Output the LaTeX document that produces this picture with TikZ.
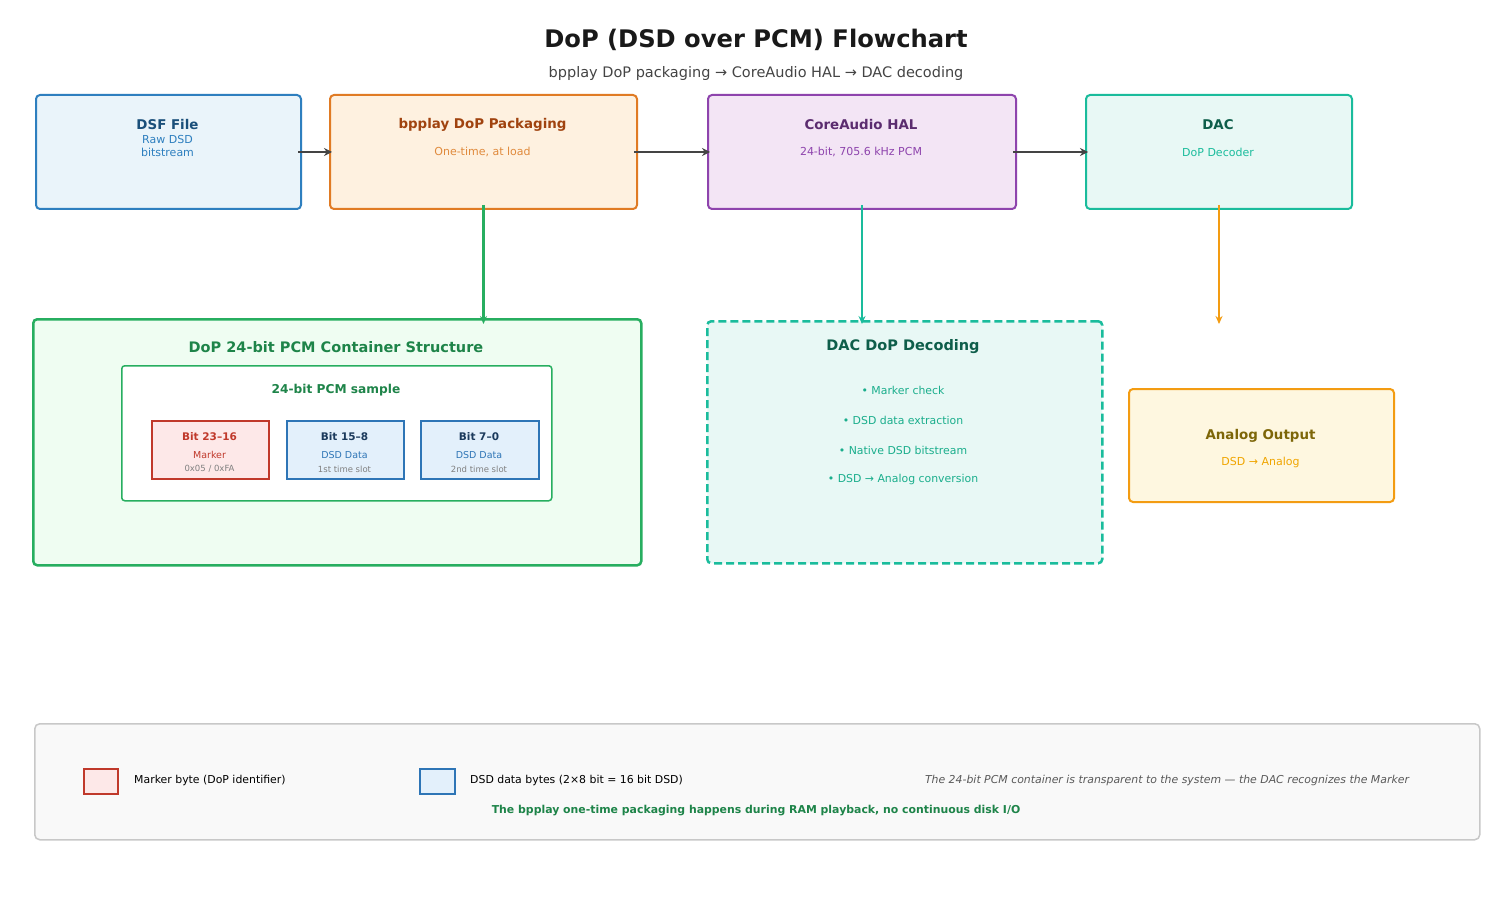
\documentclass[tikz,border=0pt]{standalone}
\usepackage{fontspec}
\setmainfont{DejaVu Sans}
\usetikzlibrary{arrows.meta}
\definecolor{bluebd}{HTML}{2E7FBF}
\definecolor{bluefill}{HTML}{EAF4FA}
\definecolor{bluedark}{HTML}{1A4F7A}
\definecolor{orbd}{HTML}{E07B24}
\definecolor{orfill}{HTML}{FEF1E0}
\definecolor{ordark}{HTML}{A0430F}
\definecolor{orlight}{HTML}{E08A3C}
\definecolor{pubd}{HTML}{8E44AD}
\definecolor{pufill}{HTML}{F3E5F5}
\definecolor{pudark}{HTML}{5B2C6F}
\definecolor{tebd}{HTML}{1ABC9C}
\definecolor{tefill}{HTML}{E8F8F5}
\definecolor{tedark}{HTML}{0E5E4A}
\definecolor{tetext}{HTML}{1AAE8C}
\definecolor{grbd}{HTML}{27AE60}
\definecolor{grfill}{HTML}{EFFDF2}
\definecolor{grdark}{HTML}{1E8449}
\definecolor{rdbd}{HTML}{C0392B}
\definecolor{rdfill}{HTML}{FDE8E8}
\definecolor{dbbd}{HTML}{2E75B6}
\definecolor{dbfill}{HTML}{E3F0FB}
\definecolor{navy}{HTML}{1B3A5C}
\definecolor{yebd}{HTML}{F39C12}
\definecolor{yefill}{HTML}{FEF7E0}
\definecolor{olive}{HTML}{7D6608}
\definecolor{yetext}{HTML}{F0A500}
\definecolor{lgbd}{HTML}{C8C8C8}
\definecolor{lgfill}{HTML}{F9F9F9}
\definecolor{arr}{HTML}{444444}
\definecolor{subgray}{HTML}{444444}
\begin{document}
\begin{tikzpicture}[x=1pt,y=-1pt,
  box/.style={draw, rounded corners=4pt, line width=2pt, anchor=north west, inner sep=0pt},
  ttl/.style={font=\bfseries\fontsize{13.4}{13.4}\selectfont},
  sub/.style={font=\fontsize{11}{11}\selectfont},
  small/.style={font=\fontsize{10.9}{10.9}\selectfont},
  harrow/.style={draw=arr, line width=2.5pt, -{Stealth[length=8pt,width=8pt]}},
  varrow/.style={line width=2.5pt, -{Stealth[length=8pt,width=7pt]}}
]
\useasboundingbox (0,0) rectangle (1501,901);
\fill[white] (0,0) rectangle (1501,901);

% title
\node[font=\bfseries\fontsize{24.2}{24.2}\selectfont, text=black!90] (title) at (756,40) {DoP (DSD over PCM) Flowchart};
\node[font=\fontsize{14.5}{14.5}\selectfont, text=subgray] (subtitle) at (756,74) {bpplay DoP packaging → CoreAudio HAL → DAC decoding};

% top boxes
\node[box, draw=bluebd, fill=bluefill, minimum width=265pt, minimum height=114pt] (dsf) at (35,94) {};
\node[ttl, text=bluedark] (dsft) at (167.5,125) {DSF File};
\node[text=bluebd, align=center, font=\fontsize{11}{13}\selectfont] (dsfs) at (167.5,146) {Raw DSD\\bitstream};

\node[box, draw=orbd, fill=orfill, minimum width=307pt, minimum height=114pt] (bp) at (329,94) {};
\node[ttl, text=ordark] (bpt) at (482.5,125) {bpplay DoP Packaging};
\node[sub, text=orlight] (bps) at (482.5,152) {One-time, at load};

\node[box, draw=pubd, fill=pufill, minimum width=308pt, minimum height=114pt] (hal) at (707,94) {};
\node[ttl, text=pudark] (halt) at (861,125) {CoreAudio HAL};
\node[sub, text=pubd] (hals) at (861,152) {24-bit, 705.6 kHz PCM};

\node[box, draw=tebd, fill=tefill, minimum width=266pt, minimum height=114pt] (dac) at (1085,94) {};
\node[ttl, text=tedark] (dact) at (1218,125) {DAC};
\node[sub, text=tebd] (dacs) at (1218,152) {DoP Decoder};

% horizontal arrows
\draw[harrow] ([xshift=-4pt]dsf.east) -- ([xshift=3pt]bp.west);
\draw[harrow] ([xshift=-4pt]bp.east) -- ([xshift=3pt]hal.west);
\draw[harrow] ([xshift=-4pt]hal.east) -- ([xshift=3pt]dac.west);

% container
\node[box, draw=grbd, fill=grfill, line width=2.5pt, minimum width=608pt, minimum height=246pt] (cont) at (32,318) {};
\node[text=grdark, font=\bfseries\fontsize{14.5}{14.5}\selectfont] (contt) at (336,347) {DoP 24-bit PCM Container Structure};
\node[box, draw=grbd, fill=white, line width=1.5pt, rounded corners=3pt, minimum width=430pt, minimum height=135pt] (inner) at (121,365) {};
\node[text=grdark, font=\bfseries\fontsize{12.2}{12.2}\selectfont] (innert) at (336,390) {24-bit PCM sample};

\node[draw=rdbd, fill=rdfill, line width=2pt, anchor=north west, minimum width=117pt, minimum height=58pt, inner sep=0pt] (b1) at (151,420) {};
\node[text=rdbd, font=\bfseries\fontsize{10.5}{10.5}\selectfont] (b1t) at (209.5,437) {Bit 23–16};
\node[text=rdbd, font=\fontsize{9.5}{9.5}\selectfont] (b1s) at (209.5,455) {Marker};
\node[text=gray, font=\fontsize{8.5}{8.5}\selectfont] (b1u) at (209.5,469) {0x05 / 0xFA};

\node[draw=dbbd, fill=dbfill, line width=2pt, anchor=north west, minimum width=117pt, minimum height=58pt, inner sep=0pt] (b2) at (286,420) {};
\node[text=navy, font=\bfseries\fontsize{10.5}{10.5}\selectfont] (b2t) at (344.5,437) {Bit 15–8};
\node[text=dbbd, font=\fontsize{9.5}{9.5}\selectfont] (b2s) at (344.5,455) {DSD Data};
\node[text=gray, font=\fontsize{8.5}{8.5}\selectfont] (b2u) at (344.5,469) {1st time slot};

\node[draw=dbbd, fill=dbfill, line width=2pt, anchor=north west, minimum width=118pt, minimum height=58pt, inner sep=0pt] (b3) at (420,420) {};
\node[text=navy, font=\bfseries\fontsize{10.5}{10.5}\selectfont] (b3t) at (479,437) {Bit 7–0};
\node[text=dbbd, font=\fontsize{9.5}{9.5}\selectfont] (b3s) at (479,455) {DSD Data};
\node[text=gray, font=\fontsize{8.5}{8.5}\selectfont] (b3u) at (479,469) {2nd time slot};

% DAC decoding
\node[box, draw=tebd, fill=tefill, line width=2.5pt, dash pattern=on 8pt off 4pt, minimum width=395pt, minimum height=242pt] (dec) at (706,320) {};
\node[text=tedark, font=\bfseries\fontsize{14.5}{14.5}\selectfont] (dect) at (903,347) {DAC DoP Decoding};
\node[small, text=tetext] (d1) at (903,390) {• Marker check};
\node[small, text=tetext] (d2) at (903,420) {• DSD data extraction};
\node[small, text=tetext] (d3) at (903,450) {• Native DSD bitstream};
\node[small, text=tetext] (d4) at (903,479) {• DSD → Analog conversion};

% analog output
\node[box, draw=yebd, fill=yefill, minimum width=265pt, minimum height=113pt] (ana) at (1128,388) {};
\node[ttl, text=olive] (anat) at (1260.5,436) {Analog Output};
\node[sub, text=yetext] (anas) at (1260.5,462) {DSD → Analog};

% vertical arrows
\path (bp.south) ++(0,114) coordinate (c1);
\path (hal.south) ++(0,114) coordinate (c2);
\path (dac.south) ++(0,114) coordinate (c3);
\draw[varrow, draw=grbd] ([yshift=5pt]bp.south) -- (c1);
\draw[varrow, draw=tebd] ([yshift=5pt]hal.south) -- (c2);
\draw[varrow, draw=yebd] ([yshift=5pt]dac.south) -- (c3);

% legend
\node[box, draw=lgbd, fill=lgfill, line width=1.5pt, rounded corners=5pt, minimum width=1445pt, minimum height=116pt] (leg) at (34,723) {};
\node[draw=rdbd, fill=rdfill, line width=1.5pt, anchor=north west, minimum width=34pt, minimum height=25pt, inner sep=0pt] (lr) at (83,768) {};
\node[small, anchor=west, inner sep=0pt] (lrt) at (134,780) {Marker byte (DoP identifier)};
\node[draw=dbbd, fill=dbfill, line width=1.5pt, anchor=north west, minimum width=35pt, minimum height=25pt, inner sep=0pt] (lb) at (419,768) {};
\node[small, anchor=west, inner sep=0pt] (lbt) at (470,780) {DSD data bytes (2×8 bit = 16 bit DSD)};
\node[text=black!65, font=\itshape\fontsize{10.9}{10.9}\selectfont] (note) at (1167,780) {The 24-bit PCM container is transparent to the system — the DAC recognizes the Marker};
\node[text=grdark, font=\bfseries\fontsize{10.9}{10.9}\selectfont] (note2) at (756,811) {The bpplay one-time packaging happens during RAM playback, no continuous disk I/O};
\end{tikzpicture}
\end{document}
